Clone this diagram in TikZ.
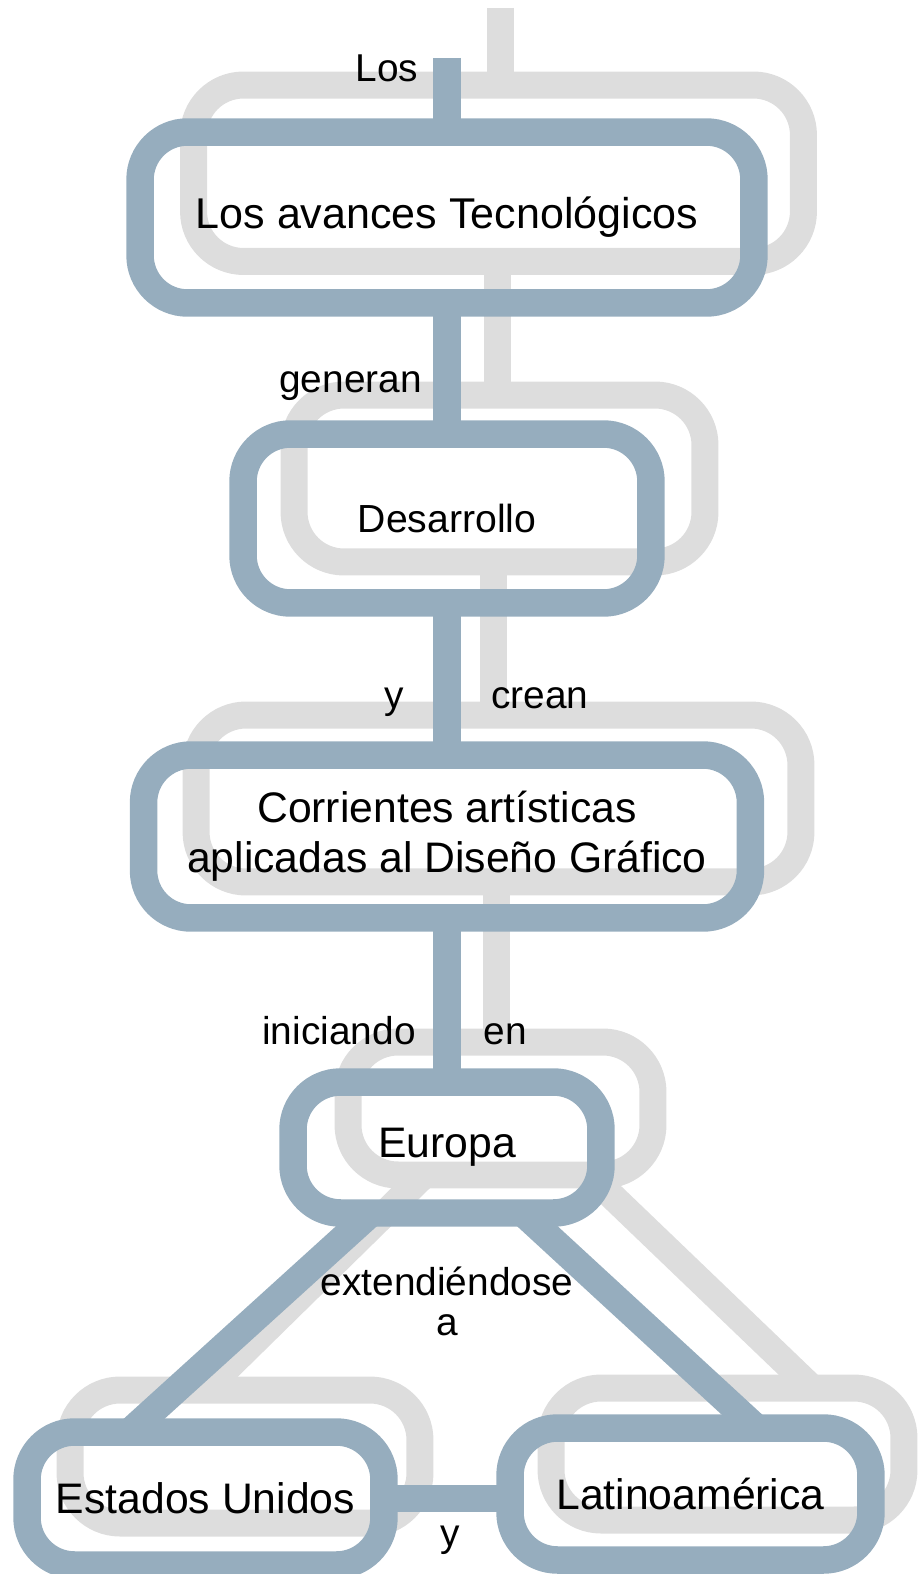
\documentclass[tikz,border=0pt]{standalone}
\usepackage{fontspec}
\setmainfont{Liberation Sans}
\usetikzlibrary{backgrounds}
\definecolor{frameblue}{RGB}{150,173,190}
\definecolor{shadegray}{RGB}{221,221,221}
\tikzset{
    concept/.style={draw=frameblue, line width=0.55cm, rounded corners=0.95cm,
        outer sep=0pt, inner sep=0pt, align=center,
        font=\fontsize{24.3}{26.8}\selectfont},
    link/.style={draw=frameblue, line width=0.55cm},
    shade/.style={draw=shadegray, line width=0.54cm},
    shadebox/.style={shade, rounded corners=1cm},
    word/.style={inner sep=0pt, anchor=base, font=\fontsize{22.1}{22.7}\selectfont},
}
\begin{document}
\begin{tikzpicture}[x=0.02cm, y=-0.02cm]
\useasboundingbox (0,0) rectangle (917,1574);

% concepts
\node[concept, minimum width=12.28cm, minimum height=3.42cm, font=\fontsize{24.5}{26.8}\selectfont] (tec) at (447,217.5) {Los avances Tecnológicos};
\node[concept, minimum width=8.16cm, minimum height=3.38cm, font=\fontsize{22.3}{22.7}\selectfont] (des) at (447,518.5) {Desarrollo};
\node[concept, minimum width=12.14cm, minimum height=3.26cm] (cor) at (447,836.5) {Corrientes artísticas\\[1.5pt]aplicadas al Diseño Gráfico};
\node[concept, minimum width=6.16cm, minimum height=2.62cm] (eur) at (447,1147.5) {Europa};
\node[concept, minimum width=7.14cm, minimum height=2.66cm] (eu) at (205.5,1498.5) {Estados Unidos};
\node[concept, minimum width=7.22cm, minimum height=2.64cm] (lat) at (690.5,1494) {Latinoamérica};
\coordinate (start) at (447,58);

% links
\draw[link] (start) -- (tec.north);
\draw[link] (tec) -- (des);
\draw[link] (des) -- (cor);
\draw[link] (cor) -- (eur);
\draw[link] ([shift={(-76,0)}]eur.south) -- ([shift={(-76,0)}]eu.north);
\draw[link] ([shift={(76,0)}]eur.south) -- ([shift={(66,0)}]lat.north);
\draw[link] (eu.east) -- (eu.east -| lat.west);

% link words
\node[word] (wlos) at (387,82) {Los};
\node[word] (wgen) at (350.5,393) {generan};
\node[word] (wy) at (394,708) {y};
\node[word] (wcre) at (540,708) {crean};
\node[word] (wini) at (339,1044) {iniciando};
\node[word] (wen) at (505,1044) {en};
\node[word, anchor=center, align=center] (wext) at (447,1301) {extendiéndose\\a};
\node[word] (wy2) at (450,1546) {y};

% shadow
\begin{scope}[on background layer]
\foreach \n/\ax/\ay/\bx/\by in {tec/53.5/-47/49.5/-41.5, des/51/-39/54/-41,
    cor/52.5/-40/50.5/-36, eur/55/-40/52/-38, eu/43/-42/36/-42, lat/41/-40/33/-40}
    \draw[shadebox] ([shift={(\ax,\ay)}]\n.north west) rectangle ([shift={(\bx,\by)}]\n.south east);
\draw[shade] ([shift={(53,-50)}]start) -- ([shift={(53,-47)}]tec.north);
\draw[shade] ([shift={(50,-41.5)}]tec.south) -- ([shift={(50,-39)}]des.north);
\draw[shade] ([shift={(46,-41)}]des.south) -- ([shift={(46,-40)}]cor.north);
\draw[shade] ([shift={(49,-36)}]cor.south) -- ([shift={(49,-40)}]eur.north);
\draw[shade] ([shift={(-23,-38)}]eur.south) -- ([shift={(-0.5,-42)}]eu.north);
\draw[shade] ([shift={(143,-38)}]eur.south) -- ([shift={(121.5,-40)}]lat.north);
\end{scope}
\end{tikzpicture}
\end{document}
